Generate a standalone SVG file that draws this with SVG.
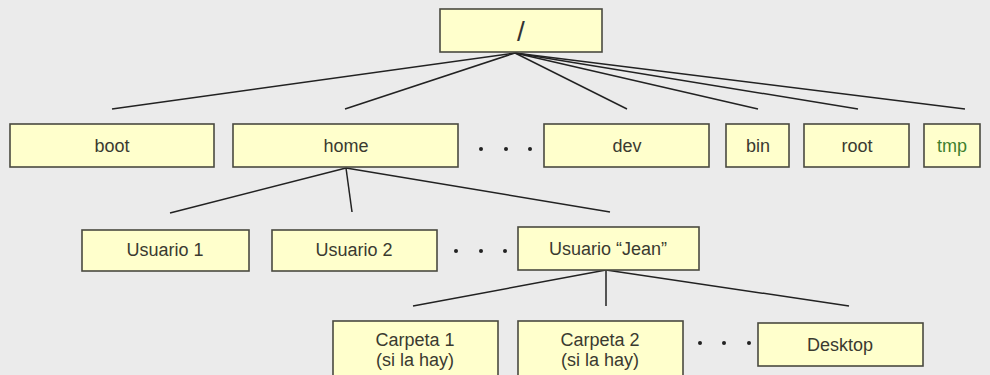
<svg xmlns="http://www.w3.org/2000/svg" width="990" height="375" viewBox="0 0 990 375">
<style>
.bx{fill:#ffffcc;stroke:#4a4a40;stroke-width:1.6}
.t{font-family:"Liberation Sans",Arial,sans-serif;font-size:18px;fill:#3a3a30;text-anchor:middle;dominant-baseline:central}
.ln{stroke:#222;stroke-width:1.5;fill:none}
.dot{fill:#222}
</style>
<rect width="990" height="375" fill="#ebebeb"/>
<g id="connectors">
<line class="ln" x1="515" y1="53" x2="112" y2="109"/>
<line class="ln" x1="515" y1="53" x2="345" y2="109"/>
<line class="ln" x1="515" y1="53" x2="627" y2="109"/>
<line class="ln" x1="515" y1="53" x2="758" y2="109"/>
<line class="ln" x1="515" y1="53" x2="858" y2="109"/>
<line class="ln" x1="515" y1="53" x2="965" y2="109"/>
<line class="ln" x1="346" y1="168" x2="170" y2="213"/>
<line class="ln" x1="346" y1="168" x2="352" y2="212"/>
<line class="ln" x1="346" y1="168" x2="610" y2="212"/>
<line class="ln" x1="606" y1="270" x2="413" y2="306"/>
<line class="ln" x1="606" y1="270" x2="606" y2="306"/>
<line class="ln" x1="606" y1="270" x2="849" y2="306"/>
</g>
<g id="dots">
<circle class="dot" cx="481" cy="149" r="2"/><circle class="dot" cx="506" cy="149" r="2"/><circle class="dot" cx="530" cy="149" r="2"/>
<circle class="dot" cx="456" cy="251" r="2"/><circle class="dot" cx="481" cy="251" r="2"/><circle class="dot" cx="505" cy="251" r="2"/>
<circle class="dot" cx="700" cy="343" r="2"/><circle class="dot" cx="724" cy="343" r="2"/><circle class="dot" cx="749" cy="343" r="2"/>
</g>
<g id="n-root"><rect class="bx" x="440" y="9" width="162" height="43"/><text class="t" x="521" y="31" style="font-size:28px;fill:#333">/</text></g>
<g id="n-boot"><rect class="bx" x="10" y="124" width="204" height="43"/><text class="t" x="112" y="146">boot</text></g>
<g id="n-home"><rect class="bx" x="233" y="124" width="225" height="43"/><text class="t" x="346" y="146">home</text></g>
<g id="n-dev"><rect class="bx" x="544" y="124" width="165" height="43"/><text class="t" x="627" y="146">dev</text></g>
<g id="n-bin"><rect class="bx" x="726" y="124" width="63" height="43"/><text class="t" x="758" y="146">bin</text></g>
<g id="n-rootdir"><rect class="bx" x="804" y="124" width="105" height="43"/><text class="t" x="857" y="146">root</text></g>
<g id="n-tmp"><rect class="bx" x="924" y="124" width="56" height="43"/><text class="t" x="952" y="146" style="fill:#3f7f2f">tmp</text></g>
<g id="n-u1"><rect class="bx" x="82" y="230" width="167" height="41"/><text class="t" x="165" y="250">Usuario 1</text></g>
<g id="n-u2"><rect class="bx" x="272" y="230" width="165" height="41"/><text class="t" x="354" y="250">Usuario 2</text></g>
<g id="n-jean"><rect class="bx" x="518" y="227" width="181" height="43"/><text class="t" x="608" y="249">Usuario “Jean”</text></g>
<g id="n-c1"><rect class="bx" x="333" y="321" width="165" height="60"/><text class="t" x="415" y="340">Carpeta 1</text><text class="t" x="415" y="360">(si la hay)</text></g>
<g id="n-c2"><rect class="bx" x="518" y="321" width="165" height="60"/><text class="t" x="600" y="340">Carpeta 2</text><text class="t" x="600" y="360">(si la hay)</text></g>
<g id="n-desktop"><rect class="bx" x="758" y="323" width="165" height="43"/><text class="t" x="840" y="345">Desktop</text></g>
</svg>
